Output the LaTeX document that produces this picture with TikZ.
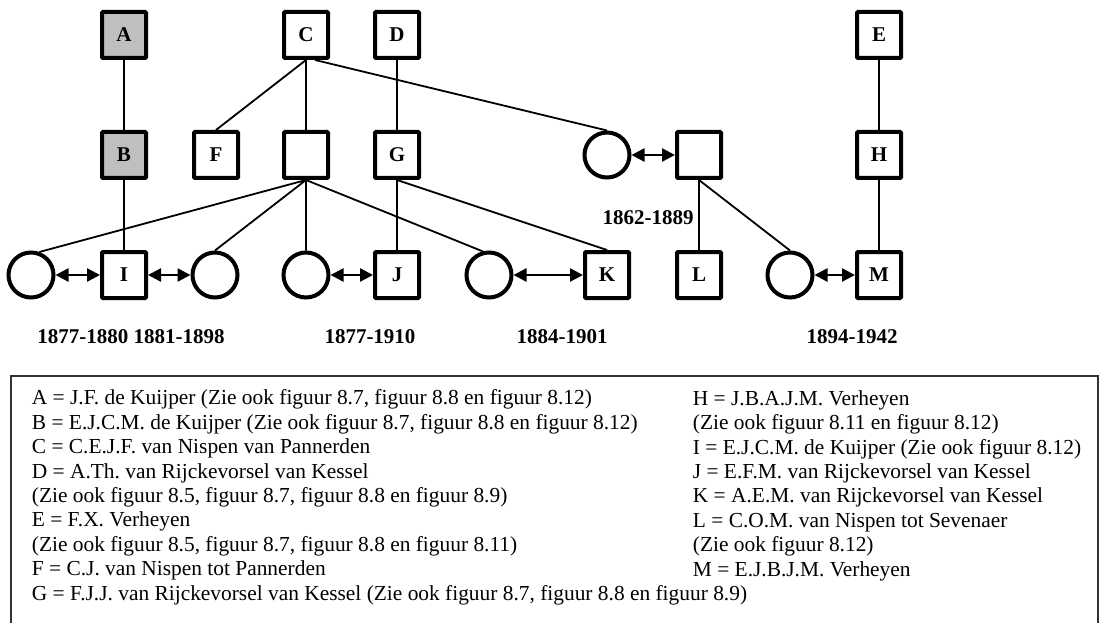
\documentclass[tikz,border=0pt]{standalone}
\usepackage{fontspec}
\setmainfont{Liberation Serif}
\usepackage{tikz}
\frenchspacing
\tikzset{
  man/.style      = {shape=rectangle, draw, line width=4pt, rounded corners=1pt,
                     minimum width=44pt, minimum height=46pt, inner sep=0pt,
                     font=\bfseries\fontsize{21}{24}\selectfont},
  kuijper/.style  = {man, fill=black!25},
  woman/.style    = {shape=circle, draw, line width=4pt,
                     minimum size=45pt, inner sep=0pt},
  years/.style    = {font=\bfseries\fontsize{21}{24}\selectfont},
  legend/.style   = {align=left, anchor=base west, inner sep=0pt,
                     font=\fontsize{21.4}{24.4}\selectfont},
  marriage/.style = {line width=2.5pt,
                     {Triangle[length=13pt,width=13pt]}-{Triangle[length=13pt,width=13pt]}}
}
\usetikzlibrary{positioning,arrows.meta}

\begin{document}
\begin{tikzpicture}
  [
    x             = 1pt,
    y             = -1pt,
    node distance = 120pt,
    line width    = 1.8pt
  ]
  \useasboundingbox (0,0) rectangle (1104,623);

  \node [kuijper] (A) at (124,35) {A};
  \node [man] (C) at (306,35) {C};
  \node [man] (D) at (397,35) {D};
  \node [man] (E) at (879,35) {E};

  \node [kuijper] (B) [below of=A] {B};
  \node [man] (F) at (216,155) {F};
  \node [man] (sonC) [below of=C] {};
  \node [man] (G) [below of=D] {G};
  \node [woman] (dauC) at (607,155) {};
  \node [man] (husb) at (699,155) {};
  \node [man] (H) [below of=E] {H};

  \node [woman] (w1) at (31,275) {};
  \node [man] (I) [below of=B] {I};
  \node [woman] (w2) at (215,275) {};
  \node [woman] (w3) [below of=sonC] {};
  \node [man] (J) [below of=G] {J};
  \node [woman] (w4) at (489,275) {};
  \node [man] (K) at (607,275) {K};
  \node [man] (L) [below of=husb] {L};
  \node [woman] (w5) at (790,275) {};
  \node [man] (M) [below of=H] {M};

  \node [years] (yL) at (648,218) {1862-1889};
  \node [years] (yI) at (131,337) {1877-1880 1881-1898};
  \node [years] (yJ) at (370,337) {1877-1910};
  \node [years] (yK) at (562,337) {1884-1901};
  \node [years] (yM) at (852,337) {1894-1942};

  \path [draw]
    (A) -- (B)
    (B) -- (I)
    (C.south) -- (F.north)
    (C) -- (sonC)
    (C.-70) -- (dauC.north)
    (D) -- (G)
    (E) -- (H)
    (H) -- (M)
    (sonC.south) -- (w1.70)
    (sonC.south) -- (w2.north)
    (sonC) -- (w3)
    (sonC.south) -- (w4.105)
    (G) -- (J)
    (G.south) -- (K.north)
    (husb) -- (L)
    (husb.south) -- (w5.north);

  \draw [marriage] (w1) -- (I);
  \draw [marriage] (I) -- (w2);
  \draw [marriage] (w3) -- (J);
  \draw [marriage] (w4) -- (K);
  \draw [marriage] (dauC) -- (husb);
  \draw [marriage] (w5) -- (M);

  % legend (base = last line)
  \draw [line width=1.2pt, black!80] (11,376) rectangle (1098,640);
  \node [legend] (keyleft) at (31,600)
    {A = J.F. de Kuijper (Zie ook figuur 8.7, figuur 8.8 en figuur 8.12)\\
     B = E.J.C.M. de Kuijper (Zie ook figuur 8.7, figuur 8.8 en figuur 8.12)\\
     C = C.E.J.F. van Nispen van Pannerden\\
     D = A.Th. van Rijckevorsel van Kessel\\
     (Zie ook figuur 8.5, figuur 8.7, figuur 8.8 en figuur 8.9)\\
     E = F.X. Verheyen\\
     (Zie ook figuur 8.5, figuur 8.7, figuur 8.8 en figuur 8.11)\\
     F = C.J. van Nispen tot Pannerden\\
     G = F.J.J. van Rijckevorsel van Kessel (Zie ook figuur 8.7, figuur 8.8 en figuur 8.9)};
  \node [legend] (keyright) at (692,576)
    {H = J.B.A.J.M. Verheyen\\
     (Zie ook figuur 8.11 en figuur 8.12)\\
     I = E.J.C.M. de Kuijper (Zie ook figuur 8.12)\\
     J = E.F.M. van Rijckevorsel van Kessel\\
     K = A.E.M. van Rijckevorsel van Kessel\\
     L = C.O.M. van Nispen tot Sevenaer\\
     (Zie ook figuur 8.12)\\
     M = E.J.B.J.M. Verheyen};
\end{tikzpicture}
\end{document}
